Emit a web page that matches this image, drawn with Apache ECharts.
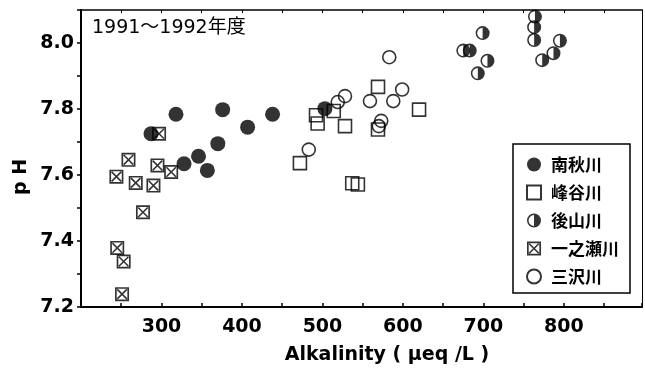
<!DOCTYPE html>
<html><head><meta charset="utf-8">
<script src="https://cdn.jsdelivr.net/npm/echarts@6/dist/echarts.min.js"></script>
<style>html,body{margin:0;padding:0;background:#fff}#c{width:645px;height:374px}</style>
</head><body><div id="c"></div>
<script>
const seriesNames = ['南秋川', '峰谷川', '後山川', '一之瀬川', '三沢川'];
const minamiakigawa = [[287,7.725],[318,7.784],[376,7.798],[407,7.745],[438,7.784],[370,7.695],[346,7.657],[328,7.634],[357,7.614],[503,7.801]];
const minetanigawa = [[492,7.781],[494,7.756],[514,7.794],[528,7.748],[569,7.867],[620,7.798],[569,7.738],[472,7.636],[537,7.575],[544,7.571]];
const ushiroyamagawa = [[699,8.030],[675,7.977],[683,7.977],[705,7.946],[693,7.908],[764,8.080],[763,8.048],[763,8.009],[795,8.007],[787,7.969],[773,7.948]];
const ichinosegawa = [[297,7.725],[259,7.646],[244,7.595],[268,7.576],[290,7.568],[295,7.629],[312,7.609],[277,7.487],[245,7.379],[253,7.338],[251,7.239]];
const misawagawa = [[583,7.957],[528,7.839],[519,7.821],[599,7.859],[588,7.824],[559,7.824],[573,7.764],[570,7.748],[483,7.677]];
const xTickLabels = [300, 400, 500, 600, 700, 800];
const yTickLabels = ['7.2', '7.4', '7.6', '7.8', '8.0'];
const titleText = '1991～1992年度';
const xTitle = 'Alkalinity ( μeq /L )';
const yTitle = 'p H';

const HALF = 'path://M50,0A50,50 0 1,1 50,100A50,50 0 1,1 50,0ZM50,11A39,39 0 1,0 50,89A39,39 0 1,0 50,11ZM50,11A39,39 0 0,1 50,89Z';
const XBOX = 'path://M0,0L100,0L100,100L0,100ZM12,12L12,88L88,88L88,12ZM12,20L20,12L88,80L80,88ZM80,12L88,20L20,88L12,80Z';

const chart = echarts.init(document.getElementById('c'), null, {renderer: 'canvas'});
const XMIN = 200, XMAX = 897, YMIN = 7.2, YMAX = 8.1;
const tickFont = {fontFamily: '"DejaVu Sans"', fontWeight: 'bold', fontSize: 19, color: '#000'};

chart.setOption({
  animation: false,
  backgroundColor: '#fff',
  grid: {left: 81, right: 2, top: 10, bottom: 67},
  xAxis: [{
    type: 'value', min: XMIN, max: XMAX, interval: 50, position: 'bottom',
    axisLine: {show: true, onZero: false, lineStyle: {color: '#000', width: 2}},
    axisTick: {show: true, inside: true, length: 4, lineStyle: {color: '#000', width: 1.5}},
    splitLine: {show: false},
    axisLabel: Object.assign({margin: 11, showMinLabel: true, showMaxLabel: true,
      formatter: v => xTickLabels.indexOf(Math.round(v)) >= 0 ? String(Math.round(v)) : ''}, tickFont)
  }, {
    type: 'value', min: XMIN, max: XMAX, interval: 50, position: 'top',
    axisLine: {show: true, onZero: false, lineStyle: {color: '#000', width: 1.5}},
    axisTick: {show: true, inside: true, length: 3, lineStyle: {color: '#000', width: 1}},
    splitLine: {show: false}, axisLabel: {show: false}
  }],
  yAxis: [{
    type: 'value', min: YMIN, max: YMAX, interval: 0.1, position: 'left',
    axisLine: {show: true, onZero: false, lineStyle: {color: '#000', width: 2}},
    axisTick: {show: true, inside: false, length: 4, lineStyle: {color: '#000', width: 1.5}},
    splitLine: {show: false},
    axisLabel: Object.assign({margin: 7, showMinLabel: true, showMaxLabel: true,
      formatter: v => { const s = v.toFixed(1); return yTickLabels.indexOf(s) >= 0 ? s : ''; }}, tickFont)
  }, {
    type: 'value', min: YMIN, max: YMAX, interval: 0.1, position: 'right',
    axisLine: {show: true, onZero: false, lineStyle: {color: '#000', width: 1}},
    axisTick: {show: false}, splitLine: {show: false}, axisLabel: {show: false}
  }],
  legend: {
    left: 513, top: 144, orient: 'vertical', selectedMode: false,
    borderColor: '#000', borderWidth: 1.5, backgroundColor: '#fff',
    padding: [12, 11, 8, 13], itemWidth: 14, itemHeight: 14, itemGap: 11,
    textStyle: {fontFamily: '"Noto Sans CJK JP"', fontWeight: 'bold', fontSize: 17, color: '#000', padding: [0, 0, 0, 5]},
    data: seriesNames
  },
  graphic: [
    {type: 'text', x: 92, y: 28.5, style: {text: titleText, font: '19px "DejaVu Sans", "Noto Sans CJK JP"', fill: '#000', align: 'left', verticalAlign: 'middle'}},
    {type: 'text', x: 387, y: 355, style: {text: xTitle, font: 'bold 19px "DejaVu Sans"', fill: '#000', align: 'center', verticalAlign: 'middle'}},
    {type: 'text', x: 21, y: 177, rotation: Math.PI / 2, style: {text: yTitle, font: 'bold 19px "DejaVu Sans"', fill: '#000', align: 'center', verticalAlign: 'middle'}}
  ],
  series: [
    {name: seriesNames[0], type: 'scatter', data: minamiakigawa, symbol: 'circle', symbolSize: 15, z: 6,
      itemStyle: {color: '#000'}},
    {name: seriesNames[1], type: 'scatter', data: minetanigawa, symbol: 'rect', symbolSize: 13, z: 3,
      itemStyle: {color: 'rgba(255,255,255,0)', borderColor: '#000', borderWidth: 1.6}},
    {name: seriesNames[2], type: 'scatter', data: ushiroyamagawa, symbol: HALF, symbolSize: 14, z: 4,
      itemStyle: {color: '#000'}},
    {name: seriesNames[3], type: 'scatter', data: ichinosegawa, symbol: XBOX, symbolSize: 14, z: 3,
      itemStyle: {color: '#000'}},
    {name: seriesNames[4], type: 'scatter', data: misawagawa, symbol: 'circle', symbolSize: 13, z: 4,
      itemStyle: {color: 'rgba(255,255,255,0)', borderColor: '#000', borderWidth: 1.6}}
  ]
});
</script></body></html>
